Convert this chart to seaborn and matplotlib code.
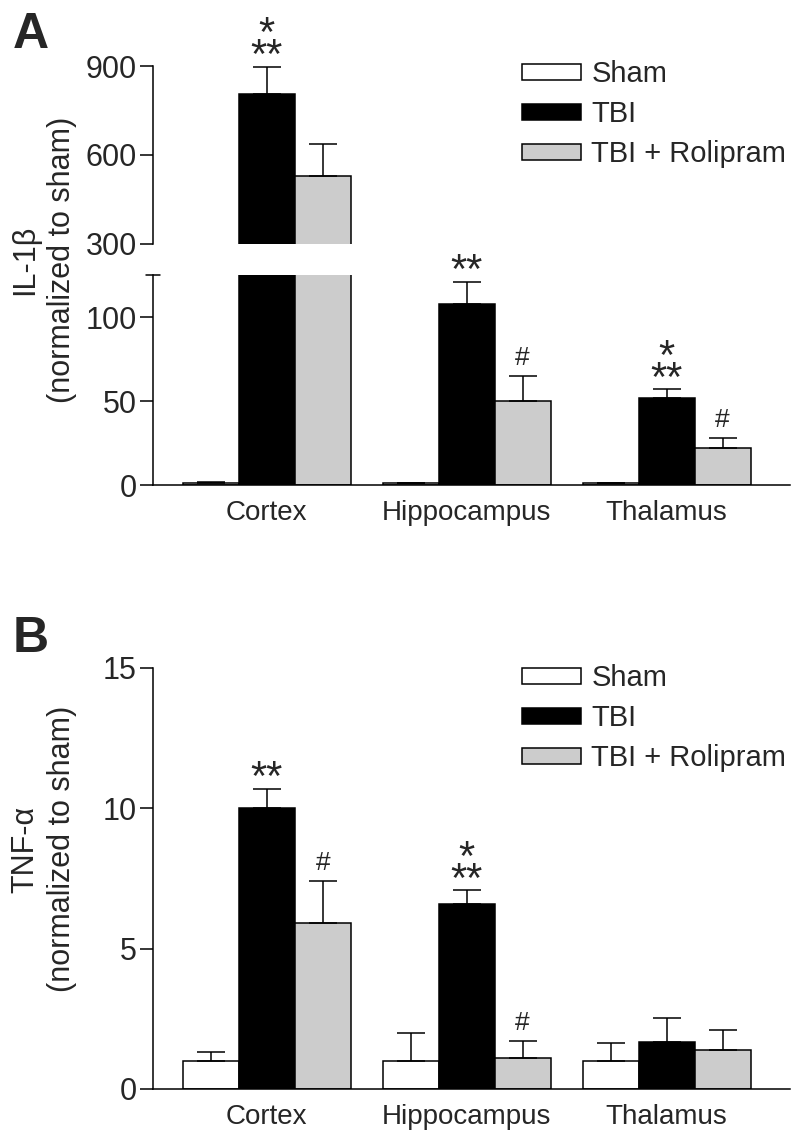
import numpy as np
import pandas as pd
import seaborn as sns
import matplotlib.pyplot as plt

# --- DATA ---
REGIONS = ["Cortex", "Hippocampus", "Thalamus"]
GROUPS = ["Sham", "TBI", "TBI + Rolipram"]
COLORS = {"Sham": "white", "TBI": "black", "TBI + Rolipram": "#cccccc"}

# IL-1beta (normalized to sham)
IL1B_SHAM = [1.2, 1.0, 1.0]
IL1B_SHAM_ERR = [0.6, 0.4, 0.4]
IL1B_TBI = [805, 108, 52]
IL1B_TBI_ERR = [92, 13, 5]
IL1B_ROL = [530, 50, 22]
IL1B_ROL_ERR = [107, 15, 6]

# TNF-alpha (normalized to sham)
TNF_SHAM = [1.0, 1.0, 1.0]
TNF_SHAM_ERR = [0.3, 1.0, 0.62]
TNF_TBI = [10.0, 6.6, 1.68]
TNF_TBI_ERR = [0.7, 0.47, 0.85]
TNF_ROL = [5.9, 1.1, 1.4]
TNF_ROL_ERR = [1.5, 0.6, 0.7]

# Signifikanz-Marker: (Gruppe, Region, Text)
IL1B_MARKS = [("TBI", "Cortex", "*\n**"),
              ("TBI", "Hippocampus", "**"),
              ("TBI + Rolipram", "Hippocampus", "#"),
              ("TBI", "Thalamus", "*\n**"),
              ("TBI + Rolipram", "Thalamus", "#")]
TNF_MARKS = [("TBI", "Cortex", "**"),
             ("TBI + Rolipram", "Cortex", "#"),
             ("TBI", "Hippocampus", "*\n**"),
             ("TBI + Rolipram", "Hippocampus", "#")]

# --- DESIGN ---
sns.set_theme(style="ticks")
plt.rcParams["font.family"] = ["Liberation Sans", "DejaVu Sans"]
LW = 1.1
YTICK_FS = 22
XTICK_FS = 20


def make_df(sham, sham_err, tbi, tbi_err, rol, rol_err):
    rows = []
    for g, vals, errs in zip(GROUPS, [sham, tbi, rol], [sham_err, tbi_err, rol_err]):
        for r, v, e in zip(REGIONS, vals, errs):
            rows.append({"Region": r, "Group": g, "Value": v, "SEM": e})
    return pd.DataFrame(rows)


def draw_bars(ax, df):
    sns.barplot(data=df, x="Region", y="Value", hue="Group", order=REGIONS,
                hue_order=GROUPS, palette=COLORS, errorbar=None, width=0.84,
                edgecolor="black", linewidth=LW, saturation=1, legend=False, ax=ax)
    for g, cont in zip(GROUPS, ax.containers):
        sub = df[df["Group"] == g].set_index("Region").loc[REGIONS]
        xs = [p.get_x() + p.get_width() / 2 for p in cont.patches]
        ax.errorbar(xs, sub["Value"], yerr=[np.zeros(len(xs)), sub["SEM"]],
                    fmt="none", ecolor="black", elinewidth=LW, capsize=10, capthick=LW)
    ax.set_xlabel("")
    ax.set_ylabel("")
    ax.set_xlim(-0.57, 2.615)
    ax.tick_params(axis="y", length=9.5, width=LW, direction="out",
                   labelsize=YTICK_FS, pad=2, color="black")
    ax.tick_params(axis="x", length=0, labelsize=XTICK_FS, pad=11)
    for s in ax.spines.values():
        s.set_linewidth(LW)
        s.set_color("black")


def draw_marks(ax, df, marks):
    for g, r, txt in marks:
        cont = ax.containers[GROUPS.index(g)]
        p = cont.patches[REGIONS.index(r)]
        row = df[(df["Group"] == g) & (df["Region"] == r)].iloc[0]
        top = row["Value"] + row["SEM"]
        xc = p.get_x() + p.get_width() / 2
        if txt == "#":
            ax.annotate(txt, (xc, top), xytext=(0, 8), textcoords="offset points",
                        ha="center", va="baseline", fontsize=19,
                        annotation_clip=False)
        else:
            ax.annotate(txt, (xc, top), xytext=(0, -1), textcoords="offset points",
                        ha="center", va="baseline", fontsize=30, linespacing=0.42,
                        multialignment="center", annotation_clip=False)


def add_legend(ax, fig, top):
    ax.legend(ax.containers, GROUPS, loc="upper left", bbox_to_anchor=(0.652, top),
              bbox_transform=fig.transFigure, frameon=False, fontsize=21,
              handlelength=2.05, handleheight=0.48, handletextpad=0.34,
              labelspacing=0.42, borderpad=0, borderaxespad=0)


fig = plt.figure(figsize=(8, 11.38), dpi=100)

# PANEL A: IL-1beta mit gebrochener Achse
df_il = make_df(IL1B_SHAM, IL1B_SHAM_ERR, IL1B_TBI, IL1B_TBI_ERR, IL1B_ROL, IL1B_ROL_ERR)
ax_up = fig.add_axes([0.191, 0.7856, 0.796, 0.1564])
ax_lo = fig.add_axes([0.191, 0.5738, 0.796, 0.1845])

draw_bars(ax_up, df_il)
ax_up.set_ylim(300, 900)
ax_up.set_yticks([300, 600, 900])
ax_up.tick_params(axis="x", bottom=False, labelbottom=False)
sns.despine(ax=ax_up, bottom=True)

draw_bars(ax_lo, df_il)
ax_lo.set_ylim(0, 125)
ax_lo.set_yticks([0, 50, 100])
sns.despine(ax=ax_lo)
ax_lo.plot([-0.011, 0.011], [1, 1], transform=ax_lo.transAxes, color="black",
           lw=LW, clip_on=False)

draw_marks(ax_up, df_il, [m for m in IL1B_MARKS if m[1] == "Cortex"])
draw_marks(ax_lo, df_il, [m for m in IL1B_MARKS if m[1] != "Cortex"])
add_legend(ax_up, fig, 1 - 60 / 1138)

fig.text(0.055, 1 - 260 / 1138, "IL-1\u03b2\n(normalized to sham)", rotation=90,
         ha="center", va="center", fontsize=22, multialignment="center",
         linespacing=1.3)
fig.text(0.016, 1 - 48 / 1138, "A", fontsize=36, fontweight="bold", va="baseline")

# PANEL B: TNF-alpha
df_tnf = make_df(TNF_SHAM, TNF_SHAM_ERR, TNF_TBI, TNF_TBI_ERR, TNF_ROL, TNF_ROL_ERR)
ax_b = fig.add_axes([0.191, 0.0431, 0.796, 0.370])
draw_bars(ax_b, df_tnf)
ax_b.set_ylim(0, 15)
ax_b.set_yticks([0, 5, 10, 15])
sns.despine(ax=ax_b)
draw_marks(ax_b, df_tnf, TNF_MARKS)
add_legend(ax_b, fig, 1 - 664 / 1138)

fig.text(0.055, 1 - 849 / 1138, "TNF-\u03b1\n(normalized to sham)", rotation=90,
         ha="center", va="center", fontsize=22, multialignment="center",
         linespacing=1.3)
fig.text(0.016, 1 - 652 / 1138, "B", fontsize=36, fontweight="bold", va="baseline")

fig.savefig("out.png", dpi=100)
plt.close(fig)
